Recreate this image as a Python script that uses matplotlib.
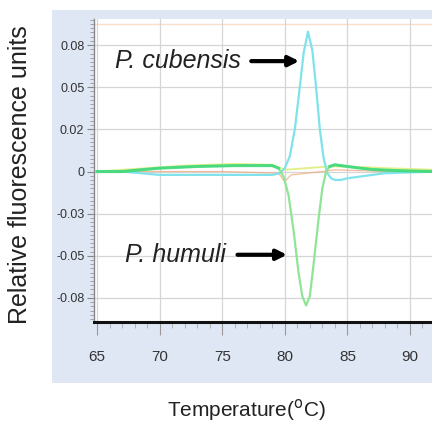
import numpy as np
import matplotlib
matplotlib.use("Agg")
import matplotlib.pyplot as plt
from matplotlib.patches import Rectangle
from matplotlib.ticker import MultipleLocator

# ---- data ----
temp_cub = [65, 67, 68.5, 70, 73, 76, 79, 79.6, 80.0, 80.4, 80.8, 81.2, 81.5,
            81.85, 82.2, 82.5, 82.8, 83.1, 83.4, 83.7, 84.0, 84.5, 85, 86, 87, 88, 90, 92]
cubensis = [0.0, 0.0, -0.001, -0.002, -0.002, -0.002, -0.002, -0.001, 0.002, 0.009,
            0.025, 0.05, 0.07, 0.083, 0.072, 0.05, 0.025, 0.008, -0.001, -0.004,
            -0.005, -0.005, -0.004, -0.003, -0.002, -0.001, -0.0005, 0.0]

temp_hum = [65, 67, 68.5, 70, 73, 76, 79, 79.5, 79.9, 80.3, 80.7, 81.1, 81.4,
            81.7, 82.0, 82.3, 82.7, 83.0, 83.3, 83.6, 84.0, 84.5, 85, 86, 87, 88, 90, 92]
humuli = [0.0, 0.0, 0.001, 0.002, 0.003, 0.0035, 0.0035, 0.002, -0.003, -0.014,
          -0.035, -0.06, -0.074, -0.0795, -0.074, -0.055, -0.028, -0.01, 0.0,
          0.003, 0.004, 0.0035, 0.003, 0.002, 0.0012, 0.0008, 0.0003, 0.0]

temp_ylw = [65, 69, 72, 76, 79, 80, 83.5, 85, 88, 92]
yellow = [0.0, 0.002, 0.0035, 0.0045, 0.004, 0.001, 0.003, 0.003, 0.002, 0.001]

temp_org = [65, 75, 79.5, 80.0, 80.5, 83, 84, 88, 92]
orange = [0.0, 0.0, -0.001, -0.006, -0.002, 0.0, 0.001, 0.0, 0.0]

threshold = 0.0875

x_ticks = [65, 70, 75, 80, 85, 90]
y_ticks = [0.075, 0.05, 0.025, 0.0, -0.025, -0.05, -0.075]
y_tick_labels = ["0.08", "0.05", "0.02", "0", "-0.03", "-0.05", "-0.08"]

plt.rcParams['font.family'] = ['Liberation Sans', 'DejaVu Sans']
narrow = ['Liberation Sans Narrow', 'Liberation Sans', 'DejaVu Sans']

fig = plt.figure(figsize=(4.32, 4.26), dpi=100)

# light blue software panel behind the plot
fig.patches.append(Rectangle((0.12, 0.101), 0.88, 0.876, transform=fig.transFigure,
                             facecolor='#dfe7f4', edgecolor='none', zorder=-10))

ax = fig.add_axes([0.2176, 0.2441, 0.7824, 0.7113])
ax.set_zorder(1)
ax.set_facecolor('white')

ax.axhline(threshold, color='#f6c9a8', lw=1, alpha=0.6, zorder=1)
ax.plot(temp_org, orange, color='#f0a070', lw=0.9, alpha=0.7, zorder=2)
ax.plot(temp_ylw, yellow, color='#e2ee80', lw=1.4, alpha=0.9, zorder=2)
ax.plot(temp_cub, cubensis, color='#80e2ea', lw=1.6, zorder=3)
ax.plot(temp_hum, humuli, color='#8fe496', lw=1.6, zorder=4)
# bright overlap of replicates on the baseline
ax.plot(temp_hum[:8], humuli[:8], color='#35d878', lw=2.2, alpha=0.8, zorder=4)
ax.plot(temp_hum[19:], humuli[19:], color='#35d878', lw=2.2, alpha=0.8, zorder=4)

ax.set_xlim(64.76, 91.76)
ax.set_ylim(-0.0893, 0.0905)

ax.set_xticks(x_ticks)
ax.xaxis.set_minor_locator(MultipleLocator(1))
ax.set_yticks(y_ticks)
ax.set_yticklabels(y_tick_labels)
ax.yaxis.set_minor_locator(MultipleLocator(0.0025))

ax.grid(True, which='major', color='#d6d6d6', lw=0.9)

for s in ['top', 'right']:
    ax.spines[s].set_visible(False)
ax.spines['bottom'].set_linewidth(2.2)
ax.spines['bottom'].set_color('#111111')
ax.spines['left'].set_color('#888888')
ax.spines['left'].set_linewidth(1.0)

ax.tick_params(axis='x', which='major', direction='out', length=9, width=0.8,
               color='#999999', pad=11, labelsize=11, labelcolor='#333333')
ax.tick_params(axis='x', which='minor', direction='out', length=4, width=0.6,
               color='#aaaaaa')
ax.tick_params(axis='y', which='major', direction='out', length=5, width=0.8,
               color='#888888', pad=2, labelsize=9, labelcolor='#333333')
ax.tick_params(axis='y', which='minor', direction='out', length=3, width=0.5,
               color='#888888')
for lab in ax.get_xticklabels() + ax.get_yticklabels():
    lab.set_family(narrow)

ax.annotate('', xy=(81.37, 0.0655), xytext=(77.1, 0.0655),
            arrowprops=dict(arrowstyle='-|>', color='black', lw=3,
                            mutation_scale=15))
ax.text(66.4, 0.0655, 'P. cubensis', style='italic', fontsize=18,
        va='center', ha='left', color='#222222')
ax.annotate('', xy=(80.4, -0.0494), xytext=(76.0, -0.0494),
            arrowprops=dict(arrowstyle='-|>', color='black', lw=3,
                            mutation_scale=15))
ax.text(67.2, -0.0494, 'P. humuli', style='italic', fontsize=18,
        va='center', ha='left', color='#222222')

fig.text(0.047, 0.589, 'Relative fluorescence units', rotation=90,
         fontsize=18, ha='center', va='center', color='#222222', family=narrow)
fig.text(0.571, 0.037, 'Temperature($^{\\rm o}$C)', fontsize=15,
         ha='center', va='center', color='#222222')

fig.savefig('out.png', dpi=100)
